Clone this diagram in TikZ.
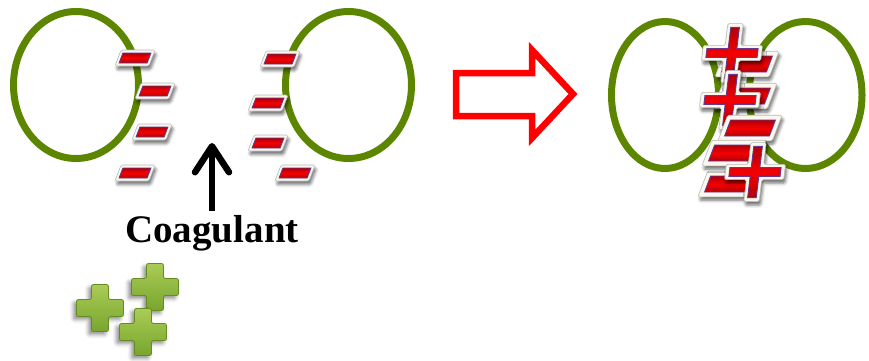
\documentclass[tikz,border=0pt]{standalone}
\usepackage{fontspec}
\setmainfont{Liberation Serif}
\usetikzlibrary{arrows.meta,shadows.blur}

\definecolor{ringgreen}{RGB}{92,134,0}
\definecolor{signred}{RGB}{245,0,0}
\definecolor{signdark}{RGB}{175,0,10}
\definecolor{signrim}{RGB}{105,55,140}
\definecolor{signwhite}{RGB}{250,248,238}
\definecolor{crosslight}{RGB}{170,204,86}
\definecolor{crossdark}{RGB}{120,165,46}
\definecolor{crossedge}{RGB}{100,140,35}

% outline of a plus sign: half arm length #1, half arm thickness #2
\newcommand\crossoutline[2]{(-#1,-#2) -- (-#2,-#2) -- (-#2,-#1) -- (#2,-#1) -- (#2,-#2) -- (#1,-#2)
  -- (#1,#2) -- (#2,#2) -- (#2,#1) -- (-#2,#1) -- (-#2,#2) -- (-#1,#2) -- cycle}

\tikzset{
  ringline/.style={draw=ringgreen, line width=7pt},
  signshadow/.style={blur shadow={shadow xshift=1.5pt, shadow yshift=-3.5pt,
      shadow opacity=55, shadow blur radius=3pt}},
  signrim/.style={fill=signwhite, draw=gray!55, line width=0.6pt, rounded corners=1.5pt, signshadow},
  signcore/.style={draw=signrim, line width=0.9pt, top color=signdark,
      bottom color=signdark, middle color=signred},
  minussign/.pic={
    \begin{scope}[xslant=0.38]
      \path[signrim] (-17,-8) rectangle (17,8);
      \path[signcore] (-14,-5) rectangle (14,5);
    \end{scope}
  },
  plussign/.pic={
    \begin{scope}[xslant=0.12]
      \path[signrim] \crossoutline{18.5}{4.8};
      \path[signcore] \crossoutline{16}{2.7};
    \end{scope}
  },
  greencross/.pic={
    \path[top color=crosslight, bottom color=crossdark, draw=crossedge, line width=0.8pt,
      rounded corners=2pt,
      blur shadow={shadow xshift=-3pt, shadow yshift=-3pt, shadow opacity=45, shadow blur radius=4pt}]
      \crossoutline{23.5}{8.5};
  },
  hollowarrow/.style={draw=red, line width=6.5pt, miter limit=10},
  label/.style={font=\fontsize{39}{42}\selectfont\bfseries, inner sep=0pt, anchor=base},
  pointer/.style={line width=6.5pt, -{Straight Barb[length=26pt, width=34pt, round]}},
}

\begin{document}
\begin{tikzpicture}[x=1pt, y=-1pt]
  \useasboundingbox (0,0) rectangle (869,360);

  % two particles apart, each carrying negative charges
  \draw[ringline] (76,85) ellipse [x radius=62.5, y radius=73.5];
  \draw[ringline] (348.5,85) ellipse [x radius=63, y radius=73.5];

  \pic (ml1) at (135,58) {minussign};
  \pic (ml2) at (155,91) {minussign};
  \pic (ml3) at (152,132) {minussign};
  \pic (ml4) at (135,173) {minussign};
  \pic (mr1) at (280,59) {minussign};
  \pic (mr2) at (268,103) {minussign};
  \pic (mr3) at (268,143) {minussign};
  \pic (mr4) at (295,173) {minussign};

  % coagulant added in the gap
  \node[label] (coag) at (212,242) {Coagulant};
  \coordinate (gap) at (212,143);
  \draw[pointer] ([yshift=4pt]coag.north) -- (gap);

  \pic (g1) at (155,287) {greencross};
  \pic (g2) at (100,308) {greencross};
  \pic (g3) at (143,332) {greencross};

  % result arrow
  \draw[hollowarrow] (456,73) -- (532,73) -- (532,50) -- (573,94) -- (532,138)
    -- (532,116) -- (456,116) -- cycle;

  % particles joined by the coagulant
  \draw[ringline] (665,95) ellipse [x radius=53.5, y radius=73.5];
  \draw[ringline] (805.5,95) ellipse [x radius=56.5, y radius=73.5];

  \pic[scale=1.6] (mc1) at (747,64) {minussign};
  \pic[scale=1.6] (mc2) at (745,96) {minussign};
  \pic[scale=1.6] (mc3) at (730,184) {minussign};
  \pic[scale=1.6] (pc1) at (732,53) {plussign};
  \pic[scale=1.6] (pc2) at (730,100) {plussign};
  \pic[scale=1.6] (mc4) at (750,128) {minussign};
  \pic[scale=1.6] (mc5) at (734,153) {minussign};
  \pic[scale=1.6] (pc3) at (755,172) {plussign};
\end{tikzpicture}
\end{document}
